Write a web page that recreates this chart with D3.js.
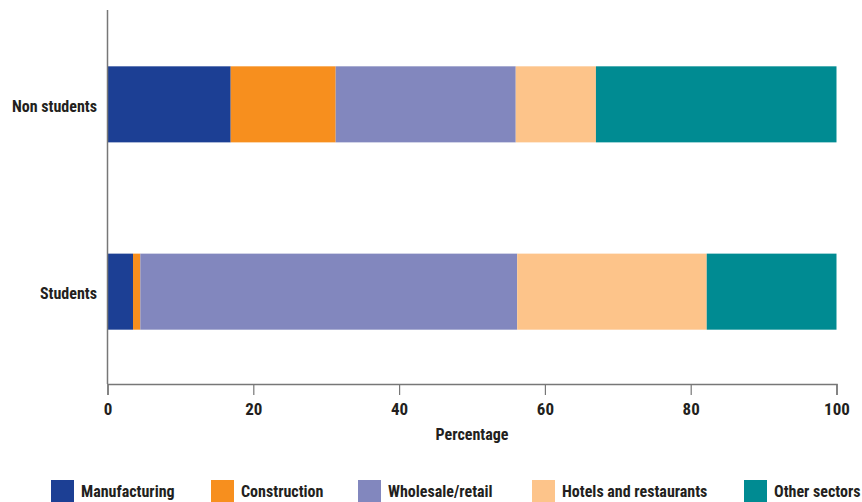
<!DOCTYPE html>
<html><head><meta charset="utf-8">
<script src="https://cdn.jsdelivr.net/npm/d3@7"></script>
<style>
body{margin:0;background:#fff;}
text{font-family:"Liberation Sans Narrow","Roboto Condensed","Arial Narrow",sans-serif;font-weight:bold;fill:#231f20;}
</style></head><body>
<svg id="c" width="862" height="502"></svg>
<script>
const categories = ["Non students", "Students"];
const sectors = ["Manufacturing", "Construction", "Wholesale/retail", "Hotels and restaurants", "Other sectors"];
const nonStudents = [16.9, 14.4, 24.7, 11.0, 33.0];
const students = [3.5, 1.0, 51.7, 26.0, 17.8];
const colors = ["#1c3f94", "#f78f1e", "#8287be", "#fdc48a", "#008b92"];
const xTicks = [0, 20, 40, 60, 80, 100];

const svg = d3.select("#c");
const x = d3.scaleLinear().domain([0, 100]).range([107.5, 836.5]);
const y = d3.scaleBand().domain(categories).range([12, 384]).paddingInner(0.594).paddingOuter(0.29);

const rows = [nonStudents, students];
rows.forEach((vals, ri) => {
  let cum = 0;
  const segs = vals.map((v, i) => { const s = {x0: cum, x1: cum + v, i}; cum += v; return s; });
  svg.append("g").selectAll("rect").data(segs).join("rect")
    .attr("x", d => x(d.x0))
    .attr("width", d => x(d.x1) - x(d.x0))
    .attr("y", y(categories[ri]))
    .attr("height", y.bandwidth())
    .attr("fill", d => colors[d.i]);
});

// axes
const xAxis = svg.append("g").attr("transform", "translate(0,384)")
  .call(d3.axisBottom(x).tickValues(xTicks).tickSize(11).tickPadding(8).tickFormat(d3.format("d")));
xAxis.select(".domain").attr("stroke", "#777").attr("stroke-width", 1.5);
xAxis.selectAll(".tick line").attr("stroke", "#777").attr("stroke-width", 1.2);
xAxis.selectAll(".tick text").style("font-size", "17px").attr("fill", "#231f20");

svg.append("line").attr("x1", x(0)).attr("x2", x(0)).attr("y1", 10).attr("y2", 384)
  .attr("stroke", "#777").attr("stroke-width", 1.5);

svg.append("g").selectAll("text").data(categories).join("text")
  .attr("x", 97).attr("y", d => y(d) + y.bandwidth() / 2 + 2)
  .attr("dy", "0.35em").attr("text-anchor", "end").style("font-size", "16px")
  .text(d => d);

svg.append("text").attr("x", (x(0) + x(100)) / 2).attr("y", 440)
  .attr("text-anchor", "middle").style("font-size", "16px").text("Percentage");

// legend
const legX = [51, 211, 358, 532, 744];
const leg = svg.append("g").selectAll("g").data(sectors).join("g")
  .attr("transform", (d, i) => `translate(${legX[i]},480)`);
leg.append("rect").attr("width", 23).attr("height", 22).attr("fill", (d, i) => colors[i]);
leg.append("text").attr("x", 30).attr("y", 17).style("font-size", "16px").text(d => d);
</script>
</body></html>
